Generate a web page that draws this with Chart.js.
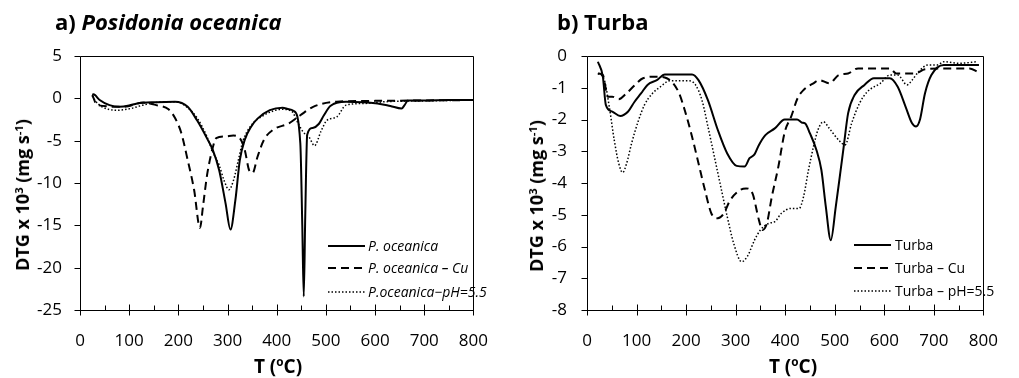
<!DOCTYPE html>
<html>
<head>
<meta charset="utf-8">
<script src="https://cdn.jsdelivr.net/npm/chart.js@4.4.1/dist/chart.umd.min.js"></script>
<style>
  body { margin: 0; background: #fff; }
  #wrap { position: relative; width: 1019px; height: 378px; overflow: hidden; font-family: 'Open Sans', sans-serif; color: #000; }
  canvas { position: absolute; top: 0; }
  .ttl { position: absolute; top: 10px; font-weight: 700; font-size: 22px; line-height: 1; white-space: nowrap; }
  .ytl, .xtl { position: absolute; font-weight: 700; font-size: 18px; line-height: 1; white-space: nowrap; }
  .ytl { transform: translate(-50%, -50%) rotate(-90deg); }
  .xtl { transform: translate(-50%, -50%); font-size: 19px; }
  sup { font-size: 0.62em; vertical-align: 0.55em; line-height: 0; }
</style>
</head>
<body>
<div id="wrap">
  <canvas id="chartA" width="509" height="378" style="left:0"></canvas>
  <canvas id="chartB" width="510" height="378" style="left:509px"></canvas>
  <div class="ttl" style="left:55px">a) <i>Posidonia oceanica</i></div>
  <div class="ttl" style="left:557px">b) Turba</div>
  <div class="ytl" style="left:22px; top:195px">DTG x 10<sup>3</sup> (mg s<sup>-1</sup>)</div>
  <div class="ytl" style="left:536px; top:196px">DTG x 10<sup>3</sup> (mg s<sup>-1</sup>)</div>
  <div class="xtl" style="left:278px; top:366px">T (<sup>o</sup>C)</div>
  <div class="xtl" style="left:793px; top:366px">T (<sup>o</sup>C)</div>
</div>
<script>
// ---- data: a) Posidonia oceanica ----
const poT = [25, 30, 40, 60, 80, 100, 116, 155, 193, 219, 238, 258, 270, 283, 296, 306, 316, 325, 335, 348, 361, 386, 412, 425, 435, 448, 452, 455, 458, 462, 473, 486, 496, 509, 541, 605, 631, 654, 660, 667, 700, 750, 800];
const poV = [0.5, 0.4, -0.2, -0.8, -1.0, -0.85, -0.6, -0.45, -0.4, -1.0, -2.6, -4.7, -6.1, -8.5, -12.4, -15.5, -12.0, -7.3, -4.9, -3.35, -2.4, -1.4, -1.1, -1.3, -1.5, -5.3, -15.0, -23.4, -14.0, -4.3, -3.5, -3.0, -2.0, -0.9, -0.4, -0.6, -0.9, -1.2, -0.8, -0.25, -0.25, -0.2, -0.2];

const poCuT = [25, 35, 90, 129, 155, 180, 193, 206, 219, 232, 244, 250, 258, 264, 270, 277, 296, 312, 325, 335, 344, 351, 361, 374, 393, 425, 448, 474, 522, 600, 700, 800];
const poCuV = [0.4, -0.8, -1.0, -0.5, -0.8, -1.3, -2.3, -4.1, -7.3, -10.8, -15.3, -12.8, -9.2, -7.3, -5.8, -4.7, -4.5, -4.4, -4.7, -6.1, -8.5, -8.8, -6.9, -4.9, -3.7, -2.95, -2.0, -1.0, -0.4, -0.3, -0.25, -0.2];

const poPhT = [25, 31, 58, 77, 103, 135, 174, 199, 219, 238, 258, 270, 283, 293, 303, 312, 322, 331, 348, 374, 410, 430, 444, 454, 466, 477, 490, 502, 522, 541, 580, 620, 700, 800];
const poPhV = [0.3, -0.3, -1.3, -1.4, -1.2, -0.7, -0.4, -0.45, -1.1, -2.3, -4.5, -6.3, -7.9, -9.7, -10.8, -9.7, -7.3, -5.1, -3.2, -2.0, -1.3, -1.5, -3.0, -4.0, -4.6, -5.6, -3.9, -2.6, -2.2, -0.8, -0.6, -0.4, -0.3, -0.2];

// ---- data: b) Turba ----
const tuT = [22, 32, 38, 51, 67, 83, 96, 109, 122, 141, 157, 212, 225, 244, 264, 283, 302, 318, 328, 338, 347, 360, 379, 399, 424, 434, 440, 450, 463, 473, 482, 492, 502, 511, 518, 527, 540, 560, 579, 611, 627, 643, 656, 664, 672, 682, 695, 720, 791];
const tuV = [-0.18, -0.65, -1.54, -1.75, -1.89, -1.75, -1.44, -1.18, -0.91, -0.76, -0.58, -0.58, -0.76, -1.39, -2.33, -3.07, -3.46, -3.48, -3.22, -3.1, -2.8, -2.49, -2.28, -2.0, -2.0, -2.1, -2.12, -2.44, -2.96, -3.59, -4.75, -5.8, -4.75, -3.7, -2.86, -1.8, -1.23, -0.91, -0.7, -0.7, -0.97, -1.6, -2.12, -2.22, -2.0, -1.18, -0.6, -0.28, -0.28];

const tuCuT = [22, 32, 42, 51, 64, 80, 97, 113, 141, 161, 174, 186, 199, 212, 225, 238, 251, 264, 276, 289, 309, 321, 334, 347, 354, 363, 373, 386, 399, 412, 425, 437, 457, 469, 489, 508, 527, 547, 611, 624, 662, 682, 720, 772, 788];
const tuCuV = [-0.55, -0.6, -1.28, -1.28, -1.36, -1.17, -0.91, -0.7, -0.65, -0.7, -0.86, -1.18, -1.8, -2.54, -3.38, -4.22, -4.96, -5.11, -4.96, -4.54, -4.22, -4.17, -4.33, -5.17, -5.48, -5.27, -4.43, -3.5, -2.4, -1.91, -1.33, -1.07, -0.86, -0.76, -0.86, -0.6, -0.55, -0.39, -0.39, -0.55, -0.55, -0.42, -0.39, -0.39, -0.5];

const tuPhT = [22, 35, 45, 55, 64, 72, 80, 90, 103, 116, 132, 148, 167, 206, 219, 232, 244, 257, 270, 283, 296, 312, 324, 338, 350, 367, 379, 392, 412, 428, 437, 447, 457, 466, 477, 489, 508, 521, 534, 550, 566, 592, 611, 627, 646, 656, 669, 688, 707, 720, 750, 788];
const tuPhV = [-0.55, -0.76, -1.6, -2.65, -3.38, -3.67, -3.38, -2.75, -2.07, -1.54, -1.18, -0.97, -0.78, -0.78, -0.91, -1.39, -2.22, -3.17, -4.12, -5.06, -5.9, -6.48, -6.3, -5.8, -5.48, -5.27, -5.22, -4.96, -4.8, -4.8, -4.43, -3.59, -2.86, -2.33, -2.07, -2.28, -2.65, -2.8, -2.12, -1.49, -1.12, -0.86, -0.6, -0.6, -0.91, -0.76, -0.5, -0.28, -0.28, -0.18, -0.23, -0.18];

const xRange = [0, 800];
const xTickStep = 50;
const yTicksA = [5, 0, -5, -10, -15, -20, -25];
const yTicksB = [0, -1, -2, -3, -4, -5, -6, -7, -8];
const labelsA = ['P. oceanica', 'P. oceanica \u2013 Cu', 'P.oceanica\u2212pH=5.5'];
const labelsB = ['Turba', 'Turba \u2013 Cu', 'Turba \u2013 pH=5.5'];

const pts = (xs, ys) => xs.map((x, i) => ({ x, y: ys[i] }));

// line looks shared by both panels
const styles = [
  { borderWidth: 2, borderDash: [] },
  { borderWidth: 2, borderDash: [8, 5] },
  { borderWidth: 1.5, borderDash: [1.5, 2] }
];

// frame + Excel-like tick marks (major ticks cross the axis, minor ones sit inside)
const frameTicks = {
  id: 'frameTicks',
  afterDraw(chart, args, opts) {
    const { ctx, chartArea: a, scales: { x, y } } = chart;
    ctx.save();
    ctx.strokeStyle = '#000';
    ctx.lineWidth = 1;
    ctx.beginPath();
    ctx.rect(Math.round(a.left) + 0.5, Math.round(a.top) + 0.5, Math.round(a.width), Math.round(a.height));
    const b = Math.round(a.bottom) + 0.5;
    for (let v = xRange[0]; v <= xRange[1]; v += xTickStep) {
      const px = Math.round(x.getPixelForValue(v)) + 0.5;
      const major = v % 100 === 0;
      ctx.moveTo(px, major ? b - 6 : b - 5);
      ctx.lineTo(px, major ? b + 5 : b);
    }
    const l = Math.round(a.left) + 0.5;
    opts.yTicks.forEach(v => {
      const py = Math.round(y.getPixelForValue(v)) + 0.5;
      ctx.moveTo(l - 6, py);
      ctx.lineTo(l, py);
    });
    ctx.stroke();
    ctx.restore();
  }
};

// legend drawn inside the plot area
const innerLegend = {
  id: 'innerLegend',
  afterDatasetsDraw(chart, args, opts) {
    const { ctx } = chart;
    ctx.save();
    ctx.font = opts.font;
    ctx.fillStyle = '#000';
    ctx.textBaseline = 'middle';
    chart.data.datasets.forEach((ds, i) => {
      const yy = opts.rows[i];
      ctx.strokeStyle = '#000';
      ctx.lineWidth = ds.borderWidth;
      ctx.setLineDash(ds.borderDash);
      ctx.beginPath();
      ctx.moveTo(opts.x0, yy);
      ctx.lineTo(opts.x1, yy);
      ctx.stroke();
      ctx.fillText(ds.label, opts.tx, yy + 1);
    });
    ctx.restore();
  }
};

function buildChart(id, series, labels, yTicks, cfg) {
  const tickFont = { family: 'Open Sans', size: 17 };
  return new Chart(document.getElementById(id), {
    type: 'line',
    data: {
      datasets: series.map((s, i) => ({
        label: labels[i],
        data: s,
        borderColor: '#000',
        backgroundColor: '#000',
        pointRadius: 0,
        fill: false,
        cubicInterpolationMode: 'monotone',
        ...styles[i]
      }))
    },
    options: {
      responsive: false,
      animation: false,
      layout: { padding: { top: 56, right: cfg.padRight, bottom: 0, left: 0 } },
      plugins: {
        legend: { display: false },
        tooltip: { enabled: false },
        innerLegend: cfg.legend,
        frameTicks: { yTicks }
      },
      scales: {
        x: {
          type: 'linear',
          min: xRange[0],
          max: xRange[1],
          grid: { display: false, drawTicks: false },
          border: { display: false },
          ticks: {
            stepSize: xTickStep,
            autoSkip: false,
            maxRotation: 0,
            padding: 21,
            color: '#000',
            font: tickFont,
            callback: v => (v % 100 === 0 ? v : '')
          },
          afterFit: s => { s.height = 68; }
        },
        y: {
          min: yTicks[yTicks.length - 1],
          max: yTicks[0],
          grid: { display: false, drawTicks: false },
          border: { display: false },
          ticks: {
            stepSize: yTicks[0] - yTicks[1],
            padding: cfg.yPad,
            color: '#000',
            font: tickFont
          },
          afterFit: s => { s.width = cfg.yWidth; }
        }
      }
    },
    plugins: [frameTicks, innerLegend]
  });
}

buildChart('chartA', [pts(poT, poV), pts(poCuT, poCuV), pts(poPhT, poPhV)], labelsA, yTicksA, {
  padRight: 15, yWidth: 80, yPad: 18,
  legend: { x0: 328, x1: 365, tx: 368, rows: [246, 268, 292], font: 'italic 14px "Open Sans"' }
});

buildChart('chartB', [pts(tuT, tuV), pts(tuCuT, tuCuV), pts(tuPhT, tuPhV)], labelsB, yTicksB, {
  padRight: 18, yWidth: 78, yPad: 20,
  legend: { x0: 345, x1: 382, tx: 386, rows: [245, 268, 291], font: '14px "Open Sans"' }
});
</script>
</body>
</html>
